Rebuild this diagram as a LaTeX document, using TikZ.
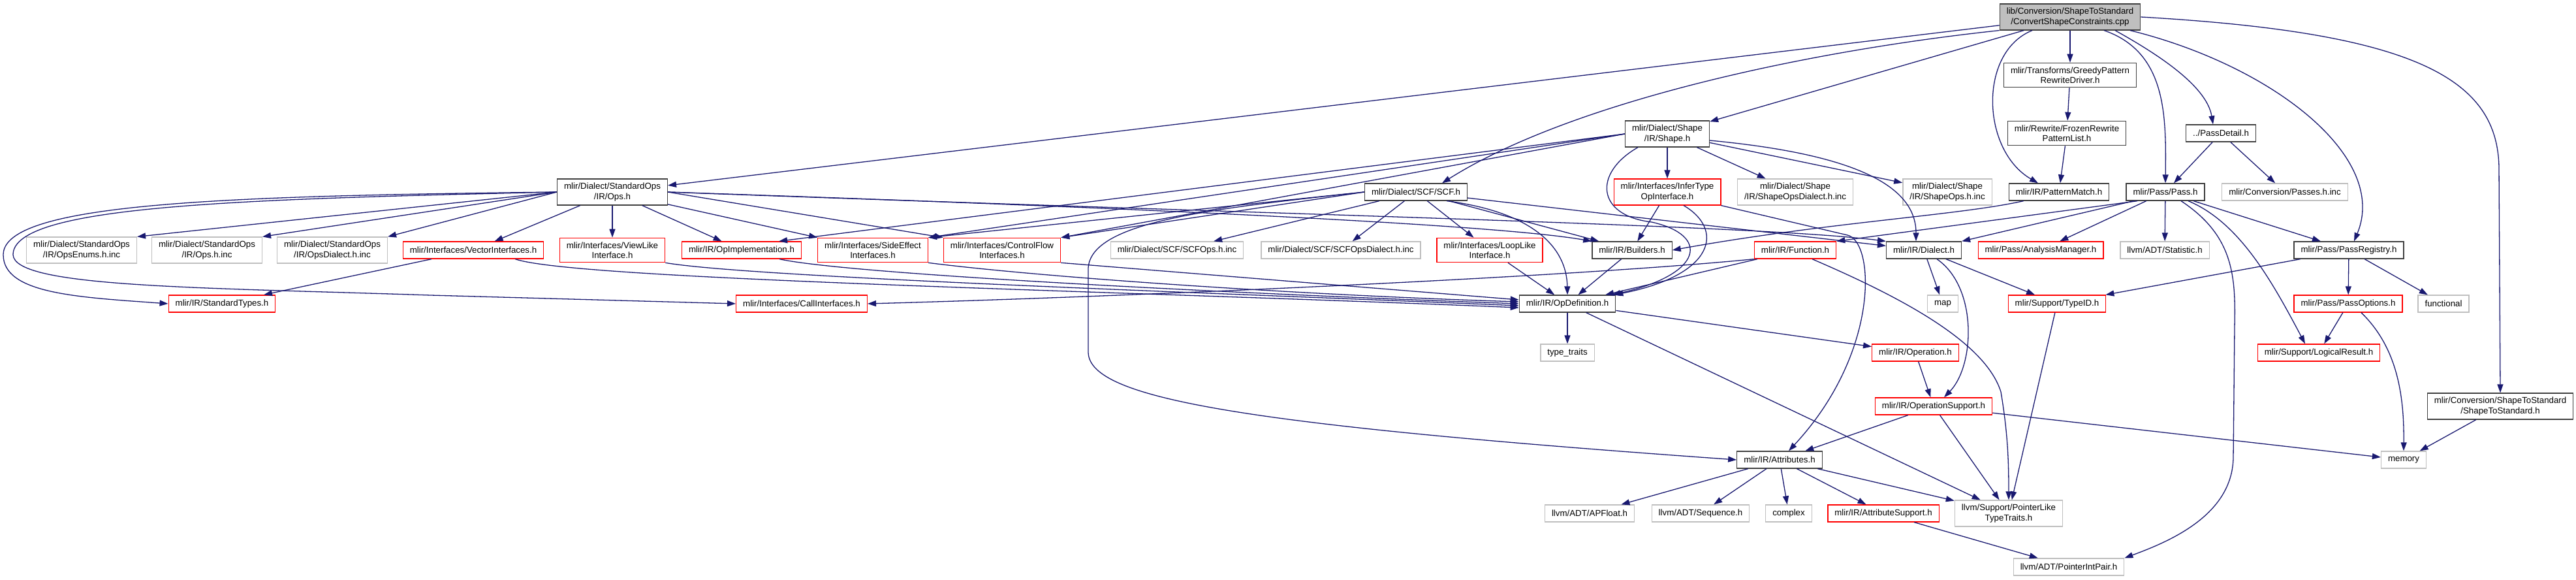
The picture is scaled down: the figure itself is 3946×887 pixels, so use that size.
\documentclass[tikz,border=0pt]{standalone}
\usepackage{fontspec}
\setmainfont{Liberation Sans}
\usetikzlibrary{arrows.meta}
\definecolor{midnightblue}{RGB}{25,25,112}

\begin{document}
\begin{tikzpicture}[
  x=1pt, y=-1pt,
  font=\fontsize{13.3}{15.5}\selectfont,
  file/.style={draw, fill=white, line width=1.3pt, align=center, inner xsep=10.5pt, inner ysep=6pt, minimum height=26pt},
  mainfile/.style={file, draw=black!75, fill=gray!50},
  docfile/.style={file, draw=black!75},
  cutfile/.style={file, draw=red},
  sysfile/.style={file, draw=gray!50},
  dep/.style={draw=midnightblue, line width=1.3pt, -{Triangle[length=13pt, width=9pt]}}
]
\useasboundingbox (0,0) rectangle (3946,887);

\node[mainfile] (root) at (3171,26) {lib/Conversion/ShapeToStandard\\/ConvertShapeConstraints.cpp};
\node[docfile] (greedy) at (3171,115) {mlir/Transforms/GreedyPattern\\RewriteDriver.h};

\node[docfile] (shape) at (2554,205) {mlir/Dialect/Shape\\/IR/Shape.h};
\node[docfile] (frozen) at (3166,204) {mlir/Rewrite/FrozenRewrite\\PatternList.h};
\node[docfile] (passdetail) at (3402,204) {../PassDetail.h};

\node[docfile] (stdops) at (938,294) {mlir/Dialect/StandardOps\\/IR/Ops.h};
\node[docfile] (scf) at (2169,294) {mlir/Dialect/SCF/SCF.h};
\node[cutfile] (infertype) at (2554,294) {mlir/Interfaces/InferType\\OpInterface.h};
\node[sysfile] (shapedialectinc) at (2750,294) {mlir/Dialect/Shape\\/IR/ShapeOpsDialect.h.inc};
\node[sysfile] (shapeopsinc) at (2983,294) {mlir/Dialect/Shape\\/IR/ShapeOps.h.inc};
\node[docfile] (patternmatch) at (3154,294) {mlir/IR/PatternMatch.h};
\node[docfile] (pass) at (3317,294) {mlir/Pass/Pass.h};
\node[sysfile] (passesinc) at (3500,294) {mlir/Conversion/Passes.h.inc};

\node[sysfile] (opsenums) at (125,383) {mlir/Dialect/StandardOps\\/IR/OpsEnums.h.inc};
\node[sysfile] (opsinc) at (317,383) {mlir/Dialect/StandardOps\\/IR/Ops.h.inc};
\node[sysfile] (opsdialectinc) at (509,383) {mlir/Dialect/StandardOps\\/IR/OpsDialect.h.inc};
\node[cutfile] (vectorif) at (725,383) {mlir/Interfaces/VectorInterfaces.h};
\node[cutfile] (viewlike) at (938,383) {mlir/Interfaces/ViewLike\\Interface.h};
\node[cutfile] (opimpl) at (1136,383) {mlir/IR/OpImplementation.h};
\node[cutfile] (sideeffect) at (1337,383) {mlir/Interfaces/SideEffect\\Interfaces.h};
\node[cutfile] (controlflow) at (1535,383) {mlir/Interfaces/ControlFlow\\Interfaces.h};
\node[sysfile] (scfopsinc) at (1803,383) {mlir/Dialect/SCF/SCFOps.h.inc};
\node[sysfile] (scfdialectinc) at (2054,383) {mlir/Dialect/SCF/SCFOpsDialect.h.inc};
\node[cutfile] (looplike) at (2282,383) {mlir/Interfaces/LoopLike\\Interface.h};
\node[docfile] (builders) at (2500,383) {mlir/IR/Builders.h};
\node[cutfile] (function) at (2750,383) {mlir/IR/Function.h};
\node[docfile] (dialect) at (2947,383) {mlir/IR/Dialect.h};
\node[cutfile] (analysis) at (3126,383) {mlir/Pass/AnalysisManager.h};
\node[sysfile] (statistic) at (3316,383) {llvm/ADT/Statistic.h};
\node[docfile] (passregistry) at (3598,383) {mlir/Pass/PassRegistry.h};

\node[cutfile] (stdtypes) at (340,465) {mlir/IR/StandardTypes.h};
\node[cutfile] (callif) at (1228,465) {mlir/Interfaces/CallInterfaces.h};
\node[docfile] (opdef) at (2401,465) {mlir/IR/OpDefinition.h};
\node[sysfile] (map) at (2976,465) {map};
\node[cutfile] (typeid) at (3151,465) {mlir/Support/TypeID.h};
\node[cutfile] (passoptions) at (3597,465) {mlir/Pass/PassOptions.h};
\node[sysfile] (functional) at (3743,465) {functional};

\node[sysfile] (typetraits) at (2401,540) {type\_traits};
\node[cutfile] (operation) at (2934,540) {mlir/IR/Operation.h};
\node[cutfile] (logicalresult) at (3552,540) {mlir/Support/LogicalResult.h};

\node[cutfile] (opsupport) at (2962,622) {mlir/IR/OperationSupport.h};
\node[docfile] (shapetostd) at (3830,622) {mlir/Conversion/ShapeToStandard\\/ShapeToStandard.h};

\node[docfile] (attributes) at (2726,704) {mlir/IR/Attributes.h};
\node[sysfile] (memory) at (3682,704) {memory};

\node[sysfile] (apfloat) at (2435,786) {llvm/ADT/APFloat.h};
\node[sysfile] (sequence) at (2605,786) {llvm/ADT/Sequence.h};
\node[sysfile] (complex) at (2740,786) {complex};
\node[cutfile] (attrsupport) at (2885,786) {mlir/IR/AttributeSupport.h};
\node[sysfile] (pointerlike) at (3077,786) {llvm/Support/PointerLike\\TypeTraits.h};

\node[sysfile] (pointerintpair) at (3169,868) {llvm/ADT/PointerIntPair.h};

\foreach \a/\b in {root/stdops, root/greedy, root/shape, greedy/frozen, frozen/patternmatch,
    passdetail/pass, passdetail/passesinc,
    shape/infertype, shape/shapedialectinc, shape/shapeopsinc,
    shape.west/sideeffect.north east, shape.west/controlflow.north east,
    stdops.west/opsenums.north east, stdops.west/opsinc.north east, stdops.west/opsdialectinc.north east,
    stdops/vectorif, stdops/viewlike, stdops/opimpl, stdops/sideeffect.north west, stdops.east/controlflow.north west,
    vectorif/stdtypes, looplike/opdef, builders/opdef,
    scf/scfopsinc, scf/scfdialectinc, scf/looplike, scf/builders, scf/dialect,
    scf.west/sideeffect.north east, scf.west/controlflow.north east,
    infertype/builders, function/opdef, dialect/map, dialect/typeid,
    pass/analysis, pass/statistic, pass/passregistry,
    passregistry/typeid, passregistry/passoptions, passregistry/functional,
    passoptions/logicalresult, shapetostd/memory,
    opdef/operation, opdef/typetraits, opdef/pointerlike, operation/opsupport,
    opsupport/attributes, opsupport/pointerlike, opsupport/memory,
    attributes/apfloat, attributes/sequence, attributes/complex, attributes/attrsupport, attributes/pointerlike,
    attrsupport/pointerintpair, typeid/pointerlike}
  \draw[dep] (\a) -- (\b);

\draw[dep] (root.south west) .. controls (2750,80) and (2400,160) .. ([xshift=40pt]scf.north);
\draw[dep] ([xshift=-58pt]root.south) .. controls (3030,80) and (3035,230) .. ([xshift=-32pt]patternmatch.north);
\draw[dep] ([xshift=52pt]root.south) .. controls (3320,80) and (3318,180) .. (pass.north);
\draw[dep] ([xshift=69pt]root.south) .. controls (3300,80) and (3380,130) .. ([xshift=-12pt]passdetail.north);
\draw[dep] ([xshift=92pt]root.south) .. controls (3480,100) and (3660,240) .. ([xshift=8pt]passregistry.north);
\draw[dep] (root.east) .. controls (3700,50) and (3828,120) .. (3828,260) -- (shapetostd.north);

\draw[dep] ([yshift=-10pt]shape.east) .. controls (2830,235) and (2935,280) .. ([xshift=-12pt]dialect.north);
\draw[dep] ([xshift=-45pt]shape.south) .. controls (2440,265) and (2445,330) .. (2530,340)
  .. controls (2620,360) and (2610,420) .. ([xshift=-6pt]opdef.north east);
\draw[dep] (shape.west) -- ([xshift=-35pt]opimpl.north east);
\draw[dep] ([xshift=25pt]infertype.south) .. controls (2640,350) and (2630,420) .. ([xshift=-2pt]opdef.north east);
\draw[dep] (infertype.south east) -- (2830,360) .. controls (2872,370) and (2880,540) .. ([xshift=14pt]attributes.north);

\draw[dep] (stdops.west) .. controls (350,300) and (5,310) .. (5,390) .. controls (5,450) and (120,455) .. (stdtypes.west);
\draw[dep] (stdops.west) .. controls (360,305) and (20,315) .. (20,390) .. controls (22,440) and (300,440) .. (660,452) -- (callif.west);
\draw[dep] (stdops.east) .. controls (1800,320) and (2300,345) .. (builders.north west);
\draw[dep] (stdops.east) .. controls (2000,330) and (2700,345) .. (dialect.north west);

\draw[dep] ([xshift=-44pt]vectorif.south east) .. controls (880,428) and (1700,445) .. ([yshift=-6pt]opdef.west);
\draw[dep] (viewlike.south east) .. controls (1150,425) and (1900,450) .. ([yshift=-3pt]opdef.west);
\draw[dep] ([xshift=-34pt]opimpl.south east) .. controls (1300,420) and (1900,450) .. (opdef.west);
\draw[dep] (sideeffect.south east) .. controls (1600,425) and (2000,452) .. ([yshift=3pt]opdef.west);
\draw[dep] (controlflow.south east) -- ([yshift=6pt]opdef.west);

\draw[dep] ([xshift=47pt]scf.south) .. controls (2350,325) and (2400,380) .. (opdef.north);
\draw[dep] (scf.west) .. controls (1850,320) and (1672,340) .. (1667,410) -- (1667,540)
  .. controls (1670,610) and (1900,650) .. (attributes.west);

\draw[dep] (function.south west) .. controls (2400,425) and (1700,455) .. (callif.east);
\draw[dep] ([xshift=26pt]function.south) .. controls (2900,450) and (3040,520) .. (3065,600)
  .. controls (3075,660) and (3077,700) .. (pointerlike.north);
\draw[dep] ([xshift=20pt]dialect.south) .. controls (3030,440) and (3025,560) .. ([xshift=16pt]opsupport.north);

\draw[dep] ([xshift=23pt]patternmatch.south west) .. controls (3000,330) and (2800,340) .. (builders.east);
\draw[dep] ([xshift=18pt]pass.south west) -- (function.north east);
\draw[dep] ([xshift=12pt]pass.south west) -- (dialect.north east);
\draw[dep] ([xshift=35pt]pass.south) .. controls (3430,340) and (3480,430) .. ([xshift=-21pt]logicalresult.north);
\draw[dep] ([xshift=24pt]pass.south) .. controls (3420,360) and (3425,420) .. (3423,500) -- (3421,700)
  .. controls (3420,790) and (3320,830) .. (pointerintpair.north east);
\draw[dep] ([xshift=20pt]passoptions.south) .. controls (3670,530) and (3683,600) .. (memory.north);
\end{tikzpicture}
\end{document}
